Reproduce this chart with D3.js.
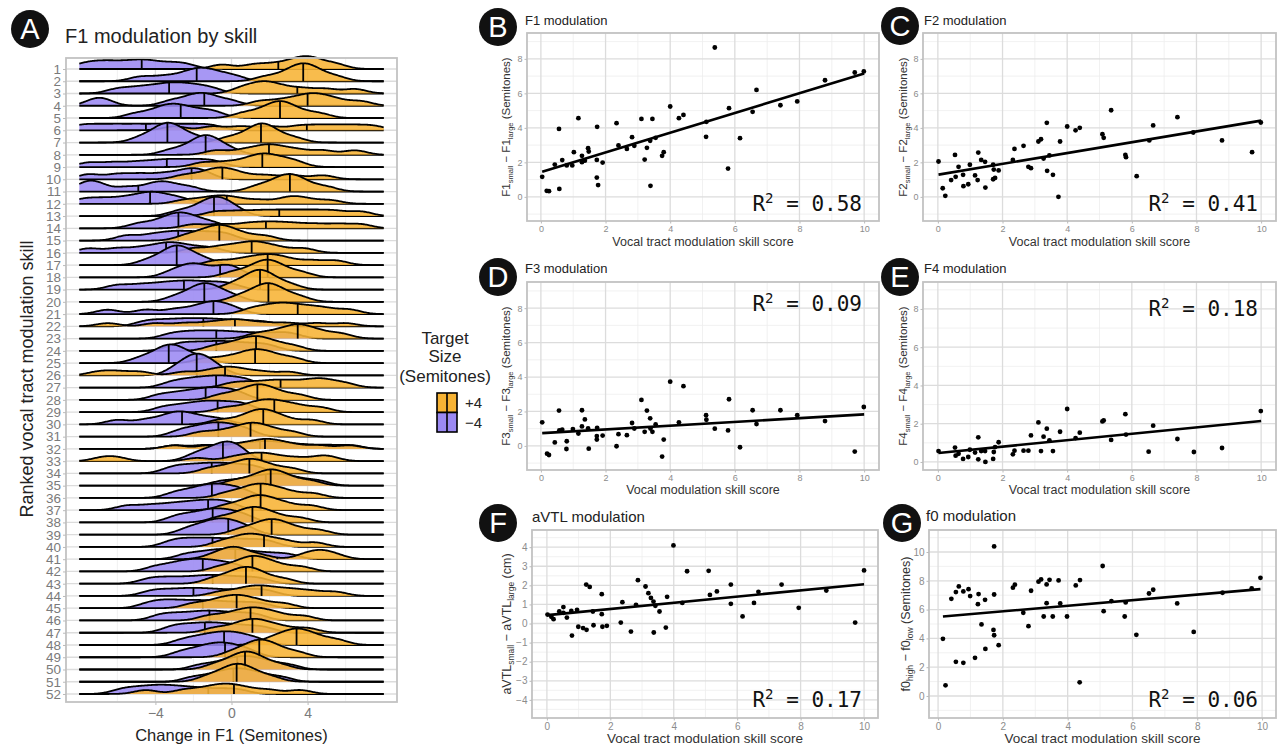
<!DOCTYPE html>
<html><head><meta charset="utf-8">
<script src="https://cdn.jsdelivr.net/npm/d3@7"></script>
<style>
body{margin:0;background:#fff}
svg{display:block}
</style>
</head><body>
<svg id="chart" width="1283" height="748" font-family="Liberation Sans, Arial, Helvetica, sans-serif"></svg>
<script>
// ---------------- DATA ----------------
// Panel A: ranked participants (1 = most skilled), trial values per target size
const rowLabels = d3.range(1, 53).map(String);
const xTicksA = [-4, 0, 4];
const purpleTrials = [
 [-7.8,-7,-6.3,-5.5,-4.8,-4.2,-3.3,-2.4],
 [-4.8,-3.6,-2.6,-2,-1.6,-1.2,-0.6,0.2],
 [-6,-5,-4.2,-3.5,-3,-2.4,-1.8,-1],
 [-7.2,-6.7,-3.2,-2.3,-1.8,-1.4,-0.9,0],
 [-5,-4,-3.5,-3.1,-2.7,-2.2,-1.5,-0.8],
 [-8,-7,-6,-5,-4,-3,-2,-1],
 [-4.8,-4,-3.7,-3.4,-3.2,-2.9,-2.5,-1.6],
 [-3.2,-2.3,-1.8,-1.5,-1.3,-1.05,-0.7,0],
 [-7.5,-6.2,-5,-4,-3.2,-2.4,-1.6,-0.8],
 [-7.5,-6,-4.8,-3.6,-2.6,-2,-1.4],
 [-7.8,-7.4,-6.9,-5.5,-4.3,-3.7,-3.2,-2.2],
 [-7.8,-6.8,-5.8,-5,-4.4,-4,-3.4,-2.6],
 [-2.8,-1.9,-1.4,-1.05,-0.8,-0.55,-0.2,0.3],
 [-4.9,-3.9,-3.3,-2.9,-2.6,-2.2,-1.7,-0.9],
 [-5.5,-4.2,-3.3,-2.6,-1.8,-1,-0.2],
 [-7.5,-6,-4.8,-3.9,-3.3,-2.8,-2,-1],
 [-4.4,-3.6,-3.2,-2.95,-2.75,-2.45,-2,-1.3],
 [-3.2,-2.5,-2.1,-1.8,-1.2,-0.5,-0.1,0.3],
 [-6,-4.8,-3.8,-3,-2.3,-1.6,-0.8,0],
 [-3,-2.2,-1.8,-1.5,-1.25,-0.95,-0.5,0.2],
 [-6.5,-4.5,-3,-2,-1.3,-0.9,-0.5,0.2],
 [-4.6,-3.8,-3,-2.3,-1.6,-0.9,-0.1,0.8,1.8],
 [-3.2,-2.4,-1.7,-1,-0.3,0.5,1.4,2.4,3.2],
 [-3,-2.3,-1.6,-0.9,-0.3,0.4,1.2,2],
 [-4.8,-4,-3.6,-3.3,-3.05,-2.75,-2.3,-1.5],
 [-3,-2.5,-2.15,-1.9,-1.7,-1.45,-1.15,-0.6],
 [-3.2,-2.4,-1.8,-1.2,-0.7,-0.2,0.4,1],
 [-3.8,-2.9,-2.2,-1.6,-1.1,-0.6,-0.1,0.5],
 [-3.6,-2.7,-2,-1.4,-0.9,-0.3,0.3,0.9],
 [-6,-4.5,-3.5,-3,-2.6,-2.1,-1.4,-0.5],
 [-2.8,-2.1,-1.5,-1.05,-0.65,-0.2,0.3,0.9],
 [-3,-1.5,-0.2,0.8,1.5,2.1,2.8,3.8,5,6.3],
 [-2,-1.3,-0.8,-0.4,-0.1,0.2,0.6],
 [-3.2,-2.5,-1.8,-1.2,-0.6,0,0.7,1.4],
 [-0.5,0.6,1.3,1.9,2.4,2.9,3.6,4.6],
 [-3,-2.2,-1.6,-1.15,-0.75,-0.3,0.2,0.8],
 [-5.5,-4.3,-3.3,-2.5,-1.8,-1.2,-0.6,0],
 [-3,-2.3,-1.65,-1.15,-0.75,-0.3,0.2,0.8],
 [-2.4,-1.7,-1.2,-0.8,-0.45,-0.1,0.35,0.9],
 [-3.2,-2.5,-1.8,-1.1,-0.4,0.4,1.2,2],
 [-2.4,-1.5,-0.8,-0.2,0.4,1.1,2,3],
 [-4,-3.1,-2.5,-2,-1.5,-1,-0.4,0.3],
 [-4.4,-3.6,-2.8,-2,-1.3,-0.7,0,0.8,1.6],
 [-4.3,-3.5,-2.7,-2,-1.3,-0.5,0.4,1.2,2],
 [-4.4,-3.7,-3.1,-2.4,-1.7,-1,-0.2,0.7,1.6],
 [-3.8,-3,-2.2,-1.5,-0.9,-0.2,0.6,1.4],
 [-3.2,-2.5,-1.8,-1.2,-0.6,0.1,0.9,1.8],
 [-2.6,-1.8,-1.2,-0.7,-0.25,0.2,0.7,1.4],
 [-2.7,-1.9,-1.35,-0.9,-0.5,-0.1,0.4,1],
 [-1.6,-0.6,0,0.5,0.9,1.4,2,3],
 [-2,-1,-0.4,0.1,0.5,1,1.6,2.6],
 [-5.8,-5,-4.3,-3.7,-3.1,-2.4,-1.6,-0.6,0.4]
];
const orangeTrials = [
 [-0.5,1.2,2.3,3.2,3.7,4.1,4.6,5.5],
 [1.8,2.8,3.3,3.6,3.9,4.2,4.6,5.5],
 [0.5,1.2,1.7,2.1,2.8,3.8,5,6.5],
 [1.5,2.6,3.4,4,4.4,4.9,5.6,6.8],
 [0.6,1.5,2.1,2.4,2.7,3,3.6,4.6],
 [-3,-1,0.5,2,3.5,4.5,5.5,6.5,7.5],
 [-0.2,0.7,1.2,1.5,1.7,1.95,2.4,3.3],
 [-0.8,0.6,1.5,2,2.6,3.5,4.8,6.5],
 [-1.5,-0.3,0.7,1.3,1.7,2.1,2.7,3.4],
 [-2.5,-1.5,-0.9,-0.5,-0.1,0.6,1.8,3.2,4.8],
 [1.3,2.1,2.6,2.9,3.2,3.5,4,5],
 [-2.5,-1.5,-0.8,-0.3,0.4,1.5,2.8,3.3,4,5.2],
 [-0.8,0.4,1.5,2.5,3.5,4.5,5.5,6.8],
 [-2,-0.6,0.7,1.6,2.4,3.3,4.4,5.6,6.8],
 [-2.4,-1.6,-1.1,-0.7,-0.4,0,0.7,1.8],
 [-2,-0.8,0,0.7,1.2,1.7,2.5,3.8],
 [-0.8,0.4,1.2,1.8,2.3,3,4.2,5.5],
 [0,0.9,1.4,1.75,2,2.3,2.8,3.7],
 [0,0.7,1.15,1.4,1.6,1.85,2.3,3.1],
 [0.3,1.05,1.5,1.8,2.05,2.3,2.8,3.6],
 [1,1.8,2.4,2.9,3.5,4.2,5,6.2],
 [-6.5,-4,-2.5,-1.3,-0.4,0.2,0.8,1.8,3,4.5,6],
 [1.3,2.2,2.9,3.3,3.7,4.1,4.8,5.8],
 [-0.9,0,0.6,1.05,1.4,1.8,2.4,3.3],
 [-1.4,-0.3,0.5,1,1.4,1.8,2.4,3.3],
 [-7,-6,-4.8,-2.5,-1.2,-0.5,0,0.6,1.6,3],
 [0,0.9,1.8,2.5,3.2,4,4.6,5.1,6],
 [-0.6,0.3,0.9,1.3,1.6,2,2.6,3.6],
 [-0.3,0.8,1.4,1.9,2.3,2.9,3.6,4.7],
 [-0.6,0.5,1.1,1.5,1.8,2.2,2.9,4.2],
 [-1.6,-0.5,0.3,0.8,1.2,1.6,2.2,3.2],
 [-3,-1.2,0.2,1,1.6,2,2.5,3.3,4.6,6.2],
 [-6.8,-6,-1.8,0,0.8,1.3,1.8,2.4,3.4,4.6,5.2],
 [-1.2,-0.3,0.35,0.8,1.15,1.55,2.2,3.2],
 [0.1,1,1.6,1.95,2.25,2.6,3.2,4.2],
 [-0.3,0.6,1.1,1.5,1.9,2.4,3.1,4.3],
 [-0.3,0.6,1.1,1.45,1.8,2.3,3,4.2],
 [-0.7,0.2,0.75,1.1,1.45,1.85,2.5,3.6],
 [0.4,1.2,1.7,2.05,2.4,2.8,3.5,4.6],
 [-0.6,0.2,0.7,1.1,1.6,2.2,3,4.4],
 [-1,-0.3,0,0.3,0.7,1.6,3.8,4.5,4.8,5.5],
 [-0.6,0.3,0.8,1.1,1.5,1.9,2.6,3.7],
 [-1,-0.2,0.3,0.65,0.95,1.3,1.8,2.8],
 [-0.6,0.4,1,1.5,2,2.7,3.4,4.3,5.5],
 [-2,-1,-0.4,0.1,0.5,1,1.7,2.8],
 [-1.2,-0.2,0.5,0.95,1.4,1.9,2.6,3.8],
 [-0.9,0.1,0.7,1.1,1.5,2,2.8,4],
 [1.9,2.6,3.05,3.4,3.7,4.1,4.7,5.6],
 [0,0.75,1.15,1.45,1.75,2.1,2.6,3.5],
 [-0.9,-0.1,0.35,0.65,0.95,1.25,1.7,2.6],
 [-1.3,-0.55,-0.1,0.2,0.5,0.8,1.25,2.1],
 [-4.5,-2.5,-1.5,-0.8,-0.3,0.2,0.9,2,3.6]
];
const purpleMedian = [-4.72,-1.83,-3.28,-1.43,-2.67,-4.5,-3.37,-1.36,-3.4,-2.1,-4.9,-4.28,-0.92,-2.79,-2.8,-3.44,-2.88,-0.6,-2.5,-1.43,-0.95,-1.48,-0.8,-0.8,-3.3,-1.83,-0.81,-1.36,-0.73,-2.6,-0.69,1.5,-0.45,-1.04,1.8,-1.03,-1.23,-0.99,-0.17,-1.0,0.2,-1.51,-0.99,-2.0,-1.51,-1.16,-1.4,-0.39,-0.34,0.3,0.1,-1.22];
const orangeMedian = [2.46,3.77,3.46,4.0,2.55,3.96,1.55,1.97,1.62,-0.48,3.07,-0.25,2.51,1.81,-0.64,1.06,1.9,1.9,1.5,1.94,3.48,0.18,3.48,1.29,1.24,-0.34,2.58,1.36,2.25,1.67,1.0,1.76,1.58,0.94,2.06,1.53,1.53,1.1,2.11,1.71,2.41,1.1,0.76,1.58,0.27,1.0,1.1,3.42,1.46,0.71,0.27,0.13];
const legendLabels = ["+4", "\u22124"];

// Panels B-G: skill score (x) and modulation (y)
const skillTicks = [0, 2, 4, 6, 8, 10];
const f1X = [0.04,0.18,0.25,0.43,0.56,0.57,0.66,0.80,0.97,1.02,1.16,1.27,1.27,1.36,1.46,1.48,1.74,1.73,1.73,1.77,1.91,2.34,2.40,2.66,2.82,2.89,3.11,3.21,3.28,3.38,3.39,3.45,3.55,3.75,3.80,4.00,4.27,4.41,5.11,5.12,5.38,5.79,5.82,6.16,6.55,6.67,7.41,7.93,8.79,9.71,9.99];
const f1Y = [1.16,0.35,0.33,1.87,3.94,0.46,2.13,1.82,1.82,2.59,4.56,2.38,2.01,2.10,2.82,2.63,4.06,2.14,1.12,0.68,1.99,4.27,2.98,2.78,3.46,2.96,4.52,2.16,2.84,3.25,0.64,4.52,3.42,2.38,2.59,5.24,4.56,4.75,3.48,4.35,8.66,1.64,5.14,3.40,4.93,6.20,5.31,5.53,6.76,7.21,7.27];
const f2X = [0.02,0.15,0.23,0.41,0.53,0.55,0.64,0.78,0.79,0.94,0.99,1.15,1.23,1.25,1.34,1.46,1.47,1.71,1.71,1.73,1.77,1.88,2.32,2.37,2.65,2.80,2.88,3.11,3.19,3.27,3.37,3.38,3.45,3.56,3.73,3.78,4.00,4.26,4.39,5.09,5.13,5.36,5.80,5.82,6.15,6.54,6.66,7.41,7.90,8.79,9.72,9.99];
const f2Y = [2.05,0.50,0.06,0.97,2.43,1.16,1.74,1.28,0.62,0.73,1.86,1.24,0.97,2.57,2.14,2.03,0.54,1.86,1.02,1.58,1.10,1.53,2.14,2.78,2.96,1.74,1.66,3.21,3.34,2.22,4.29,1.51,2.40,1.28,0.00,3.21,4.08,3.86,4.00,3.63,3.42,5.02,2.43,2.30,1.20,3.27,4.14,4.62,3.73,3.27,2.59,4.31];
const f3X = [0.04,0.19,0.25,0.43,0.56,0.57,0.66,0.80,0.79,0.99,1.16,1.27,1.27,1.36,1.46,1.48,1.74,1.73,1.73,1.91,2.34,2.40,2.66,2.82,2.89,3.11,3.21,3.28,3.38,3.39,3.45,3.55,3.75,3.80,4.00,4.27,4.41,5.11,5.12,5.38,5.79,5.82,6.16,6.55,6.67,7.41,7.93,8.79,9.71,9.99];
const f3Y = [1.37,-0.45,-0.53,0.20,2.05,0.90,0.94,0.27,-0.18,0.98,0.72,1.13,2.07,1.54,1.01,-0.16,1.05,0.57,0.37,0.60,-0.02,0.68,0.62,1.33,1.01,2.67,0.82,2.05,1.60,1.01,0.82,1.25,-0.62,0.37,3.73,1.37,3.47,1.78,1.52,1.00,0.90,2.71,-0.08,2.07,1.27,2.07,1.78,1.44,-0.33,2.26];
const f4X = [0.02,0.53,0.55,0.64,0.78,0.94,0.99,1.15,1.25,1.25,1.34,1.46,1.47,1.71,1.73,1.77,1.88,2.32,2.37,2.65,2.80,2.88,3.11,3.19,3.27,3.37,3.45,3.56,3.78,4.00,4.26,4.39,5.09,5.13,5.36,5.80,5.82,6.52,6.66,7.41,7.92,8.79,9.99];
const f4Y = [0.57,0.75,0.33,0.43,0.16,0.26,0.64,0.49,1.29,0.14,0.57,0.57,0.00,0.16,0.52,0.78,1.03,0.40,0.59,0.59,0.59,1.39,2.07,0.57,1.32,1.74,1.13,0.57,1.58,2.77,1.25,1.53,2.12,2.17,1.15,2.50,1.43,0.54,1.90,1.20,0.52,0.73,2.66];
const avtlX = [0.02,0.14,0.21,0.39,0.52,0.52,0.63,0.77,0.79,0.95,0.99,1.14,1.25,1.24,1.35,1.47,1.45,1.73,1.73,1.75,1.89,2.33,2.38,2.65,2.81,2.87,3.11,3.20,3.28,3.36,3.37,3.42,3.55,3.75,3.79,3.99,4.27,4.42,5.10,5.14,5.36,5.80,5.80,6.17,6.53,6.67,7.40,7.94,8.81,9.72,10.0];
const avtlY = [0.47,0.35,0.23,0.63,0.86,0.56,0.31,0.66,-0.63,0.72,-0.17,-0.24,-0.33,2.04,1.92,-0.09,0.63,1.54,0.49,-0.17,-0.12,0.05,1.12,-0.42,0.98,2.27,1.94,1.59,1.34,1.15,-0.47,0.93,0.63,-0.21,1.40,4.09,1.08,2.74,2.76,1.50,1.68,2.04,1.03,0.37,1.08,1.66,2.04,0.82,1.73,0.05,2.78];
const f0X = [0.15,0.23,0.41,0.55,0.55,0.64,0.78,0.78,0.94,0.99,1.14,1.25,1.23,1.34,1.45,1.46,1.73,1.73,1.71,1.73,1.87,2.31,2.37,2.63,2.79,2.87,3.10,3.18,3.26,3.35,3.35,3.44,3.54,3.72,3.77,3.98,4.25,4.38,4.37,5.08,5.11,5.35,5.76,5.79,6.12,6.51,6.64,7.38,7.89,8.78,9.68,9.95];
const f0Y = [3.97,0.74,6.75,2.37,7.22,7.61,7.26,2.30,7.42,6.94,2.65,7.08,6.38,4.97,6.68,3.27,10.39,7.05,4.59,4.22,3.53,7.52,7.73,5.78,4.85,7.31,7.94,8.10,5.52,7.75,6.45,8.07,5.52,8.03,6.43,5.52,7.68,8.05,0.95,9.03,5.89,6.59,5.52,6.50,4.25,7.12,7.38,6.43,4.45,7.17,7.47,8.21];
// fitted regression lines (start, end)
const f1Fit = [[0.04,1.45],[10,7.15]];
const f2Fit = [[0.02,1.29],[10,4.42]];
const f3Fit = [[0.04,0.74],[10,1.83]];
const f4Fit = [[0.02,0.47],[10,2.14]];
const avtlFit = [[0.02,0.44],[10,2.06]];
const f0Fit = [[0.15,5.52],[9.95,7.42]];
const r2Values = ["0.58","0.41","0.09","0.18","0.17","0.06"];

// ---------------- DRAWING ----------------
const svg = d3.select("#chart");
svg.append("rect").attr("width",1283).attr("height",748).attr("fill","#fff");
const ORANGE = "#F7B334", PURPLE = "#9B89F3";
const GRID_MAJOR = "#dcdcdc", GRID_MINOR = "#eeeeee", BORDER = "#c2c2c2", TICK_TXT = "#8c8c8c";
const SANS = "Liberation Sans, Arial, Helvetica, sans-serif";
const minus = v => v < 0 ? "\u2212" + Math.abs(v) : String(v);

function badge(cx, cy, letter) {
  svg.append("circle").attr("cx",cx).attr("cy",cy).attr("r",19).attr("fill","#111");
  svg.append("text").attr("x",cx).attr("y",cy).attr("dy","0.36em").attr("text-anchor","middle")
    .attr("fill","#fff").attr("font-size",29).text(letter);
}

// ----- Panel A: ridgeline -----
(function(){
  const L=66,R=397,T=58,B=702;
  const x = d3.scaleLinear().domain([-8.7,8.7]).range([L,R]);
  const y = d3.scalePoint().domain(rowLabels).range([69,694]);
  const g = svg.append("g");
  [-6,-2,2,6].forEach(v=>g.append("line").attr("x1",x(v)).attr("x2",x(v)).attr("y1",T).attr("y2",B).attr("stroke",GRID_MINOR).attr("stroke-width",0.8));
  xTicksA.forEach(v=>g.append("line").attr("x1",x(v)).attr("x2",x(v)).attr("y1",T).attr("y2",B).attr("stroke",GRID_MAJOR).attr("stroke-width",1.3));
  rowLabels.forEach(r=>g.append("line").attr("x1",L).attr("x2",R).attr("y1",y(r)).attr("y2",y(r)).attr("stroke",GRID_MAJOR).attr("stroke-width",1.3));

  const bw = 0.6;
  const grid = d3.range(-8, 8.0001, 0.05);
  const dens = (s, v) => d3.mean(s, t => Math.exp(-0.5*((v-t)/bw)**2)/(bw*Math.sqrt(2*Math.PI)));
  const kde = s => grid.map(v => [v, dens(s, v)]);
  const h = d3.scaleLinear().domain([0,0.42]).range([0,22]);
  rowLabels.forEach((r,i)=>{
    const y0 = y(r);
    [{c:PURPLE, s:purpleTrials[i], m:purpleMedian[i]},
     {c:ORANGE, s:orangeTrials[i], m:orangeMedian[i]}].forEach(gr=>{
      const k = kde(gr.s);
      const area = d3.area().x(p=>x(p[0])).y0(y0).y1(p=>y0-h(p[1]));
      const line = d3.line().x(p=>x(p[0])).y(p=>y0-h(p[1]));
      g.append("path").attr("d",area(k)).attr("fill",gr.c).attr("fill-opacity",0.88);
      g.append("path").attr("d",line(k)).attr("fill","none").attr("stroke","#000").attr("stroke-width",1.8);
      g.append("line").attr("x1",x(gr.m)).attr("x2",x(gr.m)).attr("y1",y0).attr("y2",y0-h(dens(gr.s,gr.m)))
        .attr("stroke","#000").attr("stroke-width",1.8);
    });
  });
  g.append("rect").attr("x",L).attr("y",T).attr("width",R-L).attr("height",B-T).attr("fill","none").attr("stroke",BORDER).attr("stroke-width",1.8);
  const ay = g.append("g").attr("transform",`translate(${L},0)`).call(d3.axisLeft(y).tickSize(3).tickPadding(2));
  ay.select(".domain").remove();
  ay.selectAll(".tick line").attr("stroke","#bbb");
  ay.attr("font-family",SANS).attr("font-size",13.5);
  ay.selectAll("text").attr("fill","#7a7a7a");
  const ax = g.append("g").attr("transform",`translate(0,${B})`).call(d3.axisBottom(x).tickValues(xTicksA).tickFormat(minus).tickSize(3).tickPadding(3));
  ax.select(".domain").remove();
  ax.selectAll(".tick line").attr("stroke","#bbb");
  ax.attr("font-family",SANS).attr("font-size",14);
  ax.selectAll("text").attr("fill","#7a7a7a");
  svg.append("text").attr("x",(L+R)/2).attr("y",741).attr("text-anchor","middle").attr("font-size",16.5).attr("fill","#222").text("Change in F1 (Semitones)");
  svg.append("text").attr("transform","translate(33,379) rotate(-90)").attr("text-anchor","middle").attr("font-size",18).attr("fill","#222").text("Ranked vocal tract modulation skill");
  svg.append("text").attr("x",65).attr("y",43).attr("font-size",20).attr("fill","#222").text("F1 modulation by skill");
  badge(30,29,"A");

  // legend
  const lg = svg.append("g");
  ["Target","Size","(Semitones)"].forEach((t,i)=>lg.append("text").attr("x",445).attr("y",[344,362,382][i]).attr("text-anchor","middle").attr("font-size",17).attr("fill","#222").text(t));
  [ORANGE,PURPLE].forEach((c,i)=>{
    const yy = 393 + i*19.5;
    lg.append("rect").attr("x",437).attr("y",yy).attr("width",20).attr("height",19.5).attr("fill",c).attr("stroke","#000").attr("stroke-width",1.6);
    lg.append("line").attr("x1",447).attr("x2",447).attr("y1",yy).attr("y2",yy+19.5).attr("stroke","#000").attr("stroke-width",1.6);
    lg.append("text").attr("x",465).attr("y",yy+15).attr("font-size",15).attr("fill","#222").text(legendLabels[i]);
  });
})();

// ----- Scatter panels -----
function scatter(c) {
  const x = d3.scaleLinear().domain(c.xd).range([c.L,c.R]);
  const y = d3.scaleLinear().domain(c.yd).range([c.B,c.T]);
  const g = svg.append("g");
  [1,3,5,7,9].forEach(v=>g.append("line").attr("x1",x(v)).attr("x2",x(v)).attr("y1",c.T).attr("y2",c.B).attr("stroke",GRID_MINOR).attr("stroke-width",0.8));
  c.yMinor.forEach(v=>g.append("line").attr("x1",c.L).attr("x2",c.R).attr("y1",y(v)).attr("y2",y(v)).attr("stroke",GRID_MINOR).attr("stroke-width",0.8));
  skillTicks.forEach(v=>g.append("line").attr("x1",x(v)).attr("x2",x(v)).attr("y1",c.T).attr("y2",c.B).attr("stroke",GRID_MAJOR).attr("stroke-width",1.3));
  c.yTicks.forEach(v=>g.append("line").attr("x1",c.L).attr("x2",c.R).attr("y1",y(v)).attr("y2",y(v)).attr("stroke",GRID_MAJOR).attr("stroke-width",1.3));
  g.selectAll("circle.pt").data(c.xs).enter().append("circle").attr("class","pt")
    .attr("cx",d=>x(d)).attr("cy",(d,i)=>y(c.ys[i])).attr("r",2.4).attr("fill","#000");
  g.append("path").attr("d",d3.line().x(d=>x(d[0])).y(d=>y(d[1]))(c.fit)).attr("stroke","#000").attr("stroke-width",2.6).attr("fill","none");
  g.append("rect").attr("x",c.L).attr("y",c.T).attr("width",c.R-c.L).attr("height",c.B-c.T).attr("fill","none").attr("stroke",BORDER).attr("stroke-width",1.8);
  const fs = c.big ? 10 : 9;
  const ax = g.append("g").attr("transform",`translate(0,${c.B})`).call(d3.axisBottom(x).tickValues(skillTicks).tickSize(2.5).tickPadding(2));
  ax.select(".domain").remove(); ax.selectAll(".tick line").attr("stroke","#bbb");
  ax.attr("font-family",SANS).attr("font-size",fs); ax.selectAll("text").attr("fill",TICK_TXT);
  const ay = g.append("g").attr("transform",`translate(${c.L},0)`).call(d3.axisLeft(y).tickValues(c.yTicks).tickFormat(minus).tickSize(2.5).tickPadding(2));
  ay.select(".domain").remove(); ay.selectAll(".tick line").attr("stroke","#bbb");
  ay.attr("font-family",SANS).attr("font-size",fs); ay.selectAll("text").attr("fill",TICK_TXT);
  // titles
  svg.append("text").attr("x",c.tx).attr("y",c.ty).attr("font-size",c.big?15:13).attr("fill","#222").text(c.title);
  svg.append("text").attr("x",(c.L+c.R)/2).attr("y",c.xly).attr("text-anchor","middle").attr("font-size",c.big?13.5:12.5).attr("fill","#333").text(c.xlab);
  const yt = svg.append("text").attr("transform",`translate(${c.ylx},${(c.T+c.B)/2}) rotate(-90)`).attr("text-anchor","middle")
    .attr("font-size",c.big?12.5:11.5).attr("fill","#333");
  c.ylab.forEach((p,i)=>{
    const ts = yt.append("tspan").text(p);
    if (i===1||i===3) ts.attr("font-size",c.big?8.5:7.5).attr("dy",3); else if (i===2||i===4) ts.attr("dy",-3);
  });
  const r2 = svg.append("text").attr("x",c.rx).attr("y",c.ry).attr("text-anchor","end")
    .attr("font-family","DejaVu Sans Mono, monospace").attr("font-size",21).attr("fill","#111");
  r2.append("tspan").text("R");
  r2.append("tspan").attr("font-size",14).attr("dy",-8).text("2");
  r2.append("tspan").attr("dy",8).text(" = " + c.r2);
  badge(c.bx,c.by,c.letter);
}

const yMajorF = [0,2,4,6,8];
scatter({L:527,R:879,T:33,B:221,xd:[-0.43,10.46],yd:[-1.4,9.5],yTicks:yMajorF,yMinor:[-1,1,3,5,7,9],
  xs:f1X,ys:f1Y,fit:f1Fit,r2:r2Values[0],title:"F1 modulation",tx:525,ty:25,letter:"B",bx:498,by:27,
  ylab:["F1","small"," \u2212 F1","large"," (Semitones)"],ylx:510,xlab:"Vocal tract modulation skill score",xly:246,rx:862,ry:211});
scatter({L:923,R:1276,T:33,B:221,xd:[-0.46,10.46],yd:[-1.4,9.5],yTicks:yMajorF,yMinor:[-1,1,3,5,7,9],
  xs:f2X,ys:f2Y,fit:f2Fit,r2:r2Values[1],title:"F2 modulation",tx:924,ty:25,letter:"C",bx:900,by:26,
  ylab:["F2","small"," \u2212 F2","large"," (Semitones)"],ylx:907,xlab:"Vocal tract modulation skill score",xly:246,rx:1258,ry:211});
scatter({L:527,R:879,T:282,B:470,xd:[-0.43,10.46],yd:[-1.4,9.52],yTicks:yMajorF,yMinor:[-1,1,3,5,7,9],
  xs:f3X,ys:f3Y,fit:f3Fit,r2:r2Values[2],title:"F3 modulation",tx:525,ty:273,letter:"D",bx:498,by:277,
  ylab:["F3","small"," \u2212 F3","large"," (Semitones)"],ylx:510,xlab:"Vocal modulation skill score",xly:494,rx:862,ry:311});
scatter({L:923,R:1276,T:282,B:470,xd:[-0.46,10.46],yd:[-0.42,9.41],yTicks:yMajorF,yMinor:[1,3,5,7,9],
  xs:f4X,ys:f4Y,fit:f4Fit,r2:r2Values[3],title:"F4 modulation",tx:924,ty:273,letter:"E",bx:900,by:277,
  ylab:["F4","small"," \u2212 F4","large"," (Semitones)"],ylx:907,xlab:"Vocal tract modulation skill score",xly:494,rx:1258,ry:316});
scatter({L:532,R:878,T:530,B:718,xd:[-0.47,10.44],yd:[-4.95,4.9],yTicks:[-4,-3,-2,-1,0,1,2,3,4],yMinor:[-4.5,-3.5,-2.5,-1.5,-0.5,0.5,1.5,2.5,3.5,4.5],
  xs:avtlX,ys:avtlY,fit:avtlFit,r2:r2Values[4],title:"aVTL modulation",tx:532,ty:522,letter:"F",bx:498,by:523,big:true,
  ylab:["aVTL","small"," \u2212 aVTL","large"," (cm)"],ylx:511,xlab:"Vocal tract modulation skill score",xly:743,rx:862,ry:707});
scatter({L:929,R:1276,T:530,B:718,xd:[-0.28,10.43],yd:[-1.53,11.53],yTicks:[0,2,4,6,8,10],yMinor:[-1,1,3,5,7,9,11],
  xs:f0X,ys:f0Y,fit:f0Fit,r2:r2Values[5],title:"f0 modulation",tx:926,ty:521,letter:"G",bx:902,by:523,big:true,
  ylab:["f0","high"," \u2212 f0","low"," (Semitones)"],ylx:910,xlab:"Vocal tract modulation skill score",xly:743,rx:1258,ry:707});
</script>
</body></html>
